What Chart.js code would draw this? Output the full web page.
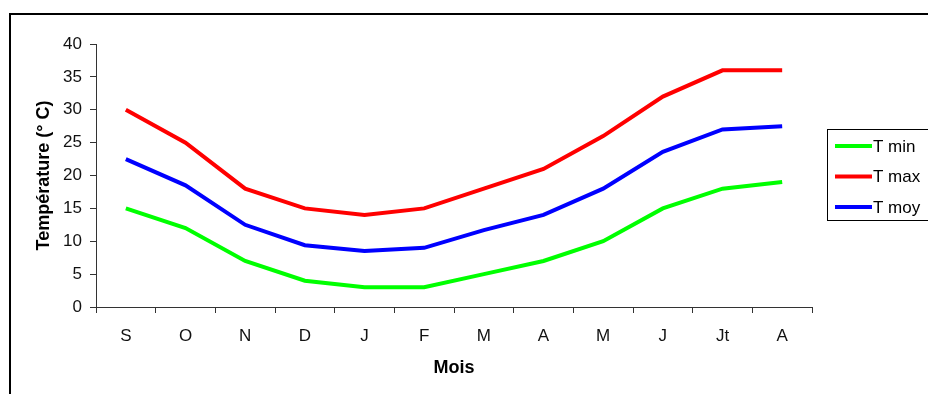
<!DOCTYPE html>
<html lang="fr">
<head>
  <meta charset="UTF-8">
  <title>Températures mensuelles</title>
  <script src="https://cdn.jsdelivr.net/npm/chart.js"></script>
  <style>
    body { margin: 0; background: #fff; }
    #wrap { position: relative; width: 928px; height: 394px; }
  </style>
</head>
<body>
  <div id="wrap">
    <canvas id="tempChart" width="928" height="394"></canvas>
  </div>

  <script>
    const mois = ['S', 'O', 'N', 'D', 'J', 'F', 'M', 'A', 'M', 'J', 'Jt', 'A'];
    const tMin = [15, 12, 7, 4, 3, 3, 5, 7, 10, 15, 18, 19];
    const tMax = [30, 25, 18, 15, 14, 15, 18, 21, 26, 32, 36, 36];
    const tMoy = [22.5, 18.5, 12.5, 9.4, 8.5, 9, 11.7, 14, 18, 23.6, 27, 27.5];
    const yTicks = [0, 5, 10, 15, 20, 25, 30, 35, 40];

    const police = '"Liberation Sans", Arial';

    // cadre + légende encadrée
    const cadre = {
      id: 'cadre',
      afterDraw(chart) {
        const ctx = chart.ctx;
        ctx.save();
        ctx.strokeStyle = '#000';
        ctx.lineWidth = 2;
        ctx.strokeRect(10, 14, 930, 400);

        ctx.lineWidth = 1;
        ctx.strokeRect(827.5, 129.5, 110, 91);
        ctx.font = '17px ' + police;
        ctx.textBaseline = 'middle';
        chart.data.datasets.forEach((ds, i) => {
          const y = 146 + i * 30.5;
          ctx.strokeStyle = ds.borderColor;
          ctx.lineWidth = 4;
          ctx.beginPath();
          ctx.moveTo(835, y);
          ctx.lineTo(872, y);
          ctx.stroke();
          ctx.fillStyle = '#000';
          ctx.fillText(ds.label, 873, y + 1);
        });
        ctx.restore();
      }
    };

    new Chart(document.getElementById('tempChart'), {
      type: 'line',
      data: {
        labels: mois,
        datasets: [
          { label: 'T min', data: tMin, borderColor: '#00ff00' },
          { label: 'T max', data: tMax, borderColor: '#ff0000' },
          { label: 'T moy', data: tMoy, borderColor: '#0000ff' }
        ]
      },
      options: {
        responsive: false,
        animation: false,
        devicePixelRatio: 1,
        elements: {
          line: { borderWidth: 4, tension: 0, fill: false },
          point: { radius: 0 }
        },
        layout: { padding: { left: 30, right: 116, top: 44, bottom: 8 } },
        plugins: { legend: { display: false }, tooltip: { enabled: false } },
        scales: {
          x: {
            offset: true,
            grid: { offset: true, drawOnChartArea: false, drawTicks: true, tickLength: 6, color: '#333' },
            border: { display: true, color: '#333', width: 1 },
            ticks: { color: '#111', font: { size: 17, family: police }, padding: 13, maxRotation: 0 },
            title: { display: true, text: 'Mois', color: '#000', font: { size: 18, weight: 'bold', family: police }, padding: { top: 4, bottom: 7 } },
            afterFit(scale) { scale.height = 79; }
          },
          y: {
            min: 0,
            max: 40,
            afterBuildTicks(scale) { scale.ticks = yTicks.map(v => ({ value: v })); },
            grid: { drawOnChartArea: false, drawTicks: true, tickLength: 6, color: '#333' },
            border: { display: true, color: '#333', width: 1 },
            ticks: { color: '#111', font: { size: 17, family: police }, padding: 8 },
            title: { display: true, text: 'Température (° C)', color: '#000', font: { size: 18, weight: 'bold', family: police }, padding: { top: 3, bottom: 4 } },
            afterFit(scale) { scale.width = 66; }
          }
        }
      },
      plugins: [cadre]
    });
  </script>
</body>
</html>
